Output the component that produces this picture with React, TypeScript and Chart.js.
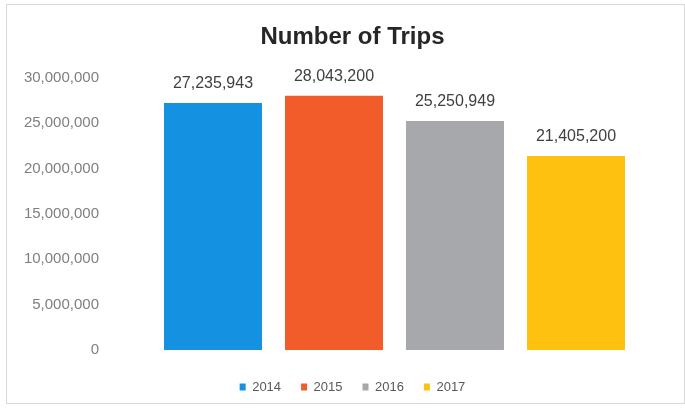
import React, { useEffect, useRef } from "react";
import { Chart, registerables } from "chart.js";

Chart.register(...registerables);

const years = ["2014", "2015", "2016", "2017"];
const trips = [27235943, 28043200, 25250949, 21405200];
const barColors = ["#1491e0", "#f25b2a", "#a6a8ac", "#fec10f"];
const yMin = 0;
const yMax = 30000000;
const yStep = 5000000;
const titleText = "Number of Trips";

const fmt = (v: number) => Number(v).toLocaleString("en-US");

const valueLabels = {
  id: "valueLabels",
  afterDatasetsDraw(chart: any) {
    const ctx = chart.ctx;
    chart.data.datasets.forEach((ds: any, i: number) => {
      const meta = chart.getDatasetMeta(i);
      meta.data.forEach((el: any, j: number) => {
        const v = ds.data[j];
        if (v == null) return;
        ctx.save();
        ctx.font = '16px "Liberation Sans"';
        ctx.fillStyle = "#404040";
        ctx.textAlign = "center";
        ctx.textBaseline = "middle";
        ctx.fillText(fmt(v), el.x, el.y - 19);
        ctx.restore();
      });
    });
  },
};

export default function App() {
  const ref = useRef<HTMLCanvasElement | null>(null);

  useEffect(() => {
    if (!ref.current) return;
    const chart = new Chart(ref.current, {
      type: "bar",
      data: {
        labels: [""],
        datasets: years.map((y, i) => ({
          label: y,
          data: [trips[i]],
          backgroundColor: barColors[i],
          borderWidth: 0,
          categoryPercentage: 0.8816,
          barPercentage: 0.81,
        })),
      },
      options: {
        responsive: false,
        animation: false,
        devicePixelRatio: 1,
        layout: { padding: { left: 20, right: 0, top: 12, bottom: 11.5 } },
        plugins: {
          title: {
            display: true,
            text: titleText,
            color: "#262626",
            font: { family: '"Liberation Sans"', size: 24, weight: "bold", lineHeight: 1.2 },
            padding: { top: 11, bottom: 26.2 },
          },
          legend: {
            display: true,
            position: "bottom",
            labels: {
              boxWidth: 6,
              boxHeight: 7,
              padding: 20,
              color: "#595959",
              font: { family: '"Liberation Sans"', size: 13 },
            },
          },
          tooltip: { enabled: false },
        },
        scales: {
          x: {
            display: true,
            grid: { display: false },
            border: { display: false },
            ticks: { display: false },
            afterFit: (s: any) => {
              s.height = 10.5;
            },
          },
          y: {
            min: yMin,
            max: yMax,
            grid: { display: false, drawTicks: false },
            border: { display: false },
            ticks: {
              stepSize: yStep,
              padding: 21,
              color: "#7f7f7f",
              font: { family: '"Liberation Sans"', size: 15 },
              callback: (v: any) => fmt(v),
            },
            afterFit: (s: any) => {
              s.width = 100;
            },
          },
          yRight: {
            position: "right",
            display: true,
            grid: { display: false, drawTicks: false },
            border: { display: false },
            ticks: { display: false },
            afterFit: (s: any) => {
              s.width = 16;
            },
          },
        },
      },
      plugins: [valueLabels],
    });
    return () => chart.destroy();
  }, []);

  return (
    <div
      style={{
        position: "fixed",
        left: 0,
        top: 0,
        width: 685,
        height: 415,
        background: "#ffffff",
      }}
    >
      <canvas ref={ref} width={685} height={415} style={{ display: "block" }} />
      <div
        style={{
          position: "absolute",
          left: 6,
          top: 4,
          width: 679,
          height: 400,
          boxSizing: "border-box",
          border: "1px solid #d9d9d9",
          pointerEvents: "none",
        }}
      />
    </div>
  );
}
